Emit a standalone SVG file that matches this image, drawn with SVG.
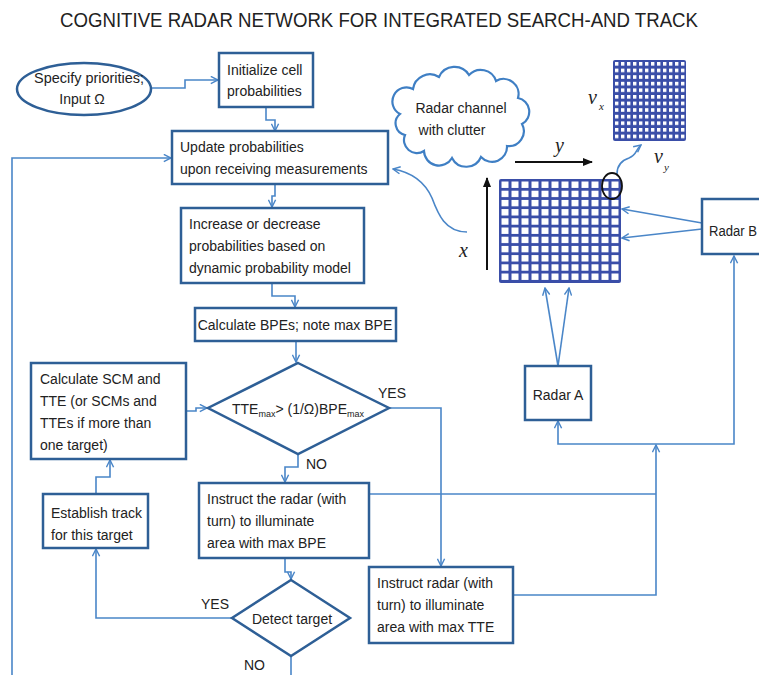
<svg xmlns="http://www.w3.org/2000/svg" width="759" height="675" viewBox="0 0 759 675">
<defs>
<style>
.t{font-family:"Liberation Sans",Arial,sans-serif;font-size:14px;fill:#222}
.box{fill:#fff;stroke:#2E5F96;stroke-width:2.5}
.c{fill:none;stroke:#4A86C8;stroke-width:1.6}
.k{fill:none;stroke:#111;stroke-width:2}
.it{font-family:"Liberation Serif","Times New Roman",serif;font-style:italic;fill:#222}
.gb{fill:#3A4EA8}
</style>
<marker id="a" viewBox="0 0 10 10" refX="9" refY="5" markerWidth="9" markerHeight="9" markerUnits="userSpaceOnUse" orient="auto-start-reverse">
<path d="M1,1 L9,5 L1,9" fill="none" stroke="#4A86C8" stroke-width="1.6"/>
</marker>
<marker id="b" viewBox="0 0 10 10" refX="9" refY="5" markerWidth="10" markerHeight="10" markerUnits="userSpaceOnUse" orient="auto">
<path d="M0,1 L10,5 L0,9 Z" fill="#111"/>
</marker>
<pattern id="pBig" patternUnits="userSpaceOnUse" x="501.5" y="181.5" width="10" height="9.2">
<rect x="0" y="0" width="7" height="6.4" fill="#fff"/>
</pattern>
<pattern id="pSmall" patternUnits="userSpaceOnUse" x="615" y="62" width="6" height="6.6">
<rect x="0" y="0" width="3.4" height="3.6" fill="#fff"/>
</pattern>
</defs>
<rect width="759" height="675" fill="#fff"/>
<text x="379" y="27" text-anchor="middle" font-family="Liberation Sans,Arial,sans-serif" font-size="20" fill="#222" textLength="638" lengthAdjust="spacingAndGlyphs">COGNITIVE RADAR NETWORK FOR INTEGRATED SEARCH-AND TRACK</text>

<g id="connectors">
<path class="c" d="M151 88 H185 V80 H218" marker-end="url(#a)"/>
<path class="c" d="M266 107 V120 H275 V131" marker-end="url(#a)"/>
<path class="c" d="M12 675 V158 H171" marker-end="url(#a)"/>
<path class="c" d="M275 184 V196 H272 V207" marker-end="url(#a)"/>
<path class="c" d="M272 283 V296 H295 V307" marker-end="url(#a)"/>
<path class="c" d="M296 341 V362" marker-end="url(#a)"/>
<path class="c" d="M389 408 H441 V566" marker-end="url(#a)"/>
<path class="c" d="M298 454 V467 H285 V482" marker-end="url(#a)"/>
<path class="c" d="M187 411 H196 V408 H207" marker-end="url(#a)"/>
<path class="c" d="M285 558 V572 H291 V579" marker-end="url(#a)"/>
<path class="c" d="M232 618 H96 V549" marker-end="url(#a)"/>
<path class="c" d="M96 494 V477 H110 V460" marker-end="url(#a)"/>
<path class="c" d="M291 656 V675"/>
<path class="c" d="M369 494 H656"/>
<path class="c" d="M513 595 H656 V445" marker-end="url(#a)"/>
<path class="c" d="M558 421 V444 H734 V256" marker-start="url(#a)" marker-end="url(#a)"/>
<path class="c" d="M558 366 L545 288" marker-end="url(#a)"/>
<path class="c" d="M558 366 L569 288" marker-end="url(#a)"/>
<path class="c" d="M702 223 L622 209" marker-end="url(#a)"/>
<path class="c" d="M702 229 L622 238" marker-end="url(#a)"/>
<path class="c" stroke-width="2" d="M467 232 C445 232 438 214 432 198 C424 180 410 172 393 169" marker-end="url(#a)"/>
<path class="c" stroke-width="2" d="M617 174 C617 164 623 160 629 158 C637 155 636 149 641 145" marker-end="url(#a)"/>
<path class="k" d="M515 162 H592" marker-end="url(#b)"/>
<path class="k" d="M487 270 V178" marker-end="url(#b)"/>
</g>

<g id="n-specify">
<ellipse cx="84" cy="89" rx="67" ry="26" fill="#fff" stroke="#2E5F96" stroke-width="2.5"/>
<text class="t" x="89" y="83" text-anchor="middle" textLength="110" lengthAdjust="spacingAndGlyphs">Specify priorities;</text>
<text class="t" x="82" y="104" text-anchor="middle">Input Ω</text>
</g>
<g id="n-init">
<rect class="box" x="219" y="53" width="94" height="54"/>
<text class="t" x="227" y="75">Initialize cell</text>
<text class="t" x="227" y="96">probabilities</text>
</g>
<g id="n-update">
<rect class="box" x="172" y="131" width="216" height="53"/>
<text class="t" x="180" y="152">Update probabilities</text>
<text class="t" x="180" y="174">upon receiving measurements</text>
</g>
<g id="n-increase">
<rect class="box" x="181" y="208" width="183" height="75"/>
<text class="t" x="189" y="229">Increase or decrease</text>
<text class="t" x="189" y="251">probabilities based on</text>
<text class="t" x="189" y="273">dynamic probability model</text>
</g>
<g id="n-bpe">
<rect class="box" x="195" y="308" width="201" height="33"/>
<text class="t" x="295" y="330" text-anchor="middle">Calculate BPEs; note max BPE</text>
</g>
<g id="n-decision">
<polygon class="box" points="298,363 389,408 298,454 208,408"/>
<text class="t" x="298" y="414" text-anchor="middle">TTE<tspan font-size="9" dy="3">max</tspan><tspan dy="-3">&gt; (1/Ω)BPE</tspan><tspan font-size="9" dy="3">max</tspan></text>
<text class="t" x="378" y="398">YES</text>
<text class="t" x="306" y="469">NO</text>
</g>
<g id="n-calcscm">
<rect class="box" x="31" y="363" width="155" height="96"/>
<text class="t" x="40" y="384">Calculate SCM and</text>
<text class="t" x="40" y="406">TTE (or SCMs and</text>
<text class="t" x="40" y="428">TTEs if more than</text>
<text class="t" x="40" y="450">one target)</text>
</g>
<g id="n-establish">
<rect class="box" x="43" y="494" width="105" height="54"/>
<text class="t" x="51" y="518">Establish track</text>
<text class="t" x="51" y="540">for this target</text>
</g>
<g id="n-instructbpe">
<rect class="box" x="199" y="483" width="170" height="75"/>
<text class="t" x="207" y="504">Instruct the radar (with</text>
<text class="t" x="207" y="526">turn) to illuminate</text>
<text class="t" x="207" y="548">area with max BPE</text>
</g>
<g id="n-detect">
<polygon class="box" points="291,580 350,618 291,656 232,618"/>
<text class="t" x="292" y="624" text-anchor="middle">Detect target</text>
<text class="t" x="201" y="609">YES</text>
<text class="t" x="244" y="670">NO</text>
</g>
<g id="n-instructtte">
<rect class="box" x="369" y="567" width="144" height="76"/>
<text class="t" x="377" y="588">Instruct radar (with</text>
<text class="t" x="377" y="610">turn) to illuminate</text>
<text class="t" x="377" y="632">area with max TTE</text>
</g>
<g id="n-cloud">
<path fill="#fff" stroke="#3F7FC4" stroke-width="2.2" d="M400 114 A14 14 0 0 1 413 89 A17 17 0 0 1 439 77 A17 17 0 0 1 469 75 A16 16 0 0 1 496 81 A15 15 0 0 1 518 98 A14 14 0 0 1 522 124 A15 15 0 0 1 507 146 A15 15 0 0 1 481 157 A16 16 0 0 1 452 158 A15 15 0 0 1 424 151 A13 13 0 0 1 405 135 A12 12 0 0 1 400 114 Z"/>
<text class="t" x="461" y="113" text-anchor="middle">Radar channel</text>
<text class="t" x="452" y="135" text-anchor="middle">with clutter</text>
</g>
<g id="n-grid">
<rect class="gb" x="499" y="179" width="122" height="104" rx="2"/>
<rect fill="url(#pBig)" x="501" y="181" width="119" height="101"/>
<ellipse cx="612" cy="186" rx="10" ry="13" fill="none" stroke="#111" stroke-width="1.8"/>
<text class="it" x="555" y="152" font-size="20" font-family="Liberation Sans,Arial,sans-serif">y</text>
<text class="it" x="459" y="257" font-size="20" font-family="Liberation Sans,Arial,sans-serif">x</text>
</g>
<g id="n-velgrid">
<rect class="gb" x="613" y="60" width="73" height="81" rx="2"/>
<rect fill="url(#pSmall)" x="614" y="61" width="71" height="79"/>
<text class="it" x="588" y="104" font-size="20">v</text>
<text class="it" x="599" y="110" font-size="11">x</text>
<text class="it" x="654" y="163" font-size="20">v</text>
<text class="it" x="664" y="171" font-size="11">y</text>
</g>
<g id="n-radarb">
<rect class="box" x="702" y="199" width="70" height="55"/>
<text class="t" x="709" y="236" textLength="48" lengthAdjust="spacingAndGlyphs">Radar B</text>
</g>
<g id="n-radara">
<rect class="box" x="525" y="366" width="66" height="54"/>
<text class="t" x="558" y="400" text-anchor="middle">Radar A</text>
</g>
</svg>
